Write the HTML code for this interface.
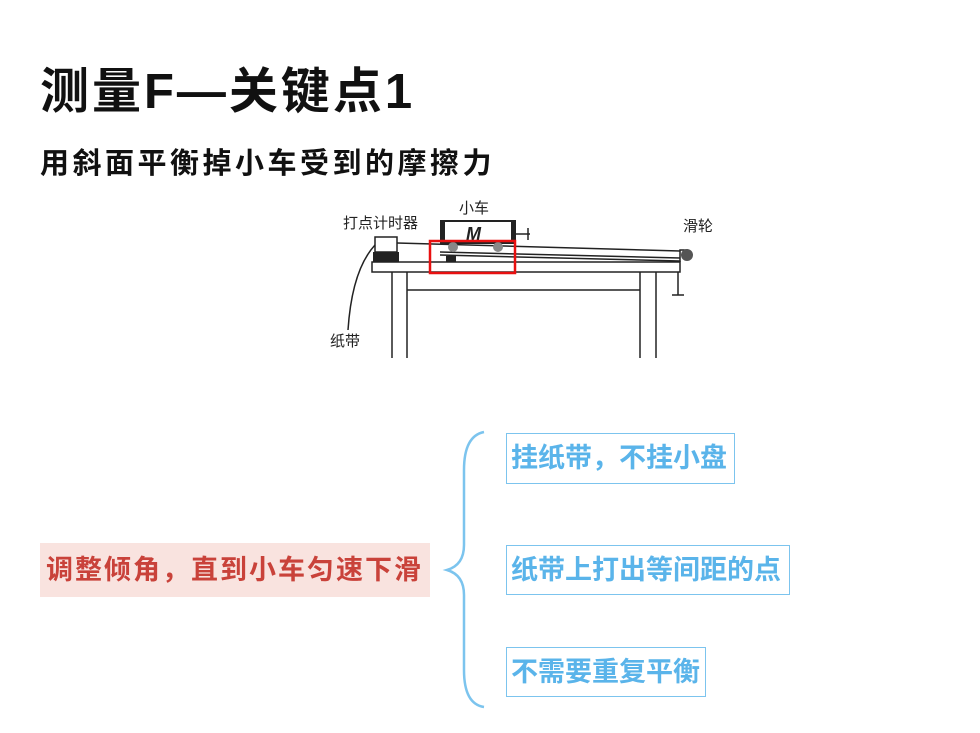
<!DOCTYPE html>
<html><head><meta charset="utf-8"><style>
body{margin:0;width:980px;height:733px;background:#fff;position:relative;overflow:hidden;font-family:"Liberation Sans","Noto Sans CJK SC",sans-serif}
.a{position:absolute;white-space:nowrap}
.b{position:absolute;border:1.5px solid #7cc4ee;color:#5ab4ea;font-weight:bold;font-size:27px;line-height:48px;padding-left:4px;box-sizing:border-box}
</style></head><body>
<div class="a" style="left:40px;top:52px;font-size:49px;font-weight:bold;color:#111;letter-spacing:3px">测量F—关键点1</div>
<div class="a" style="left:40px;top:140px;font-size:29px;font-weight:bold;color:#111;letter-spacing:3.5px">用斜面平衡掉小车受到的摩擦力</div>
<svg class="a" style="left:0;top:0" width="980" height="733">
<g fill="none" stroke="#222" stroke-width="1.5">
<rect x="372" y="262" width="308" height="10" fill="#fff"/>
<line x1="392" y1="272" x2="392" y2="358"/><line x1="407" y1="272" x2="407" y2="358"/>
<line x1="640" y1="272" x2="640" y2="358"/><line x1="656" y1="272" x2="656" y2="358"/>
<line x1="407" y1="290" x2="640" y2="290"/>
<rect x="375" y="237" width="22" height="15"/>
<line x1="440" y1="252" x2="680" y2="258"/><line x1="440" y1="255" x2="680" y2="261"/>
<rect x="441" y="221" width="74" height="22" stroke-width="2"/>
<path d="M375 245 Q352 270 348 330"/>
<line x1="397" y1="243" x2="680" y2="251"/>
<path d="M680 262 V250 H688 M672 295 H684 M678 272 V295"/>
<line x1="515" y1="234" x2="530" y2="234"/><line x1="528" y1="228" x2="528" y2="240"/>
</g>
<rect x="373" y="252" width="26" height="10" fill="#222"/>
<rect x="446" y="256" width="10" height="6" fill="#222"/>
<rect x="441" y="221" width="4" height="22" fill="#222"/><rect x="511" y="221" width="4" height="22" fill="#222"/>
<text x="466" y="240" font-size="18" font-style="italic" font-weight="bold" fill="#222">M</text>
<circle cx="453" cy="247" r="5" fill="#888"/><circle cx="498" cy="247" r="5" fill="#888"/>
<circle cx="687" cy="255" r="6" fill="#555"/>
<rect x="430" y="241" width="85" height="32" fill="none" stroke="#e81010" stroke-width="2.5"/>
<text x="343" y="228" font-size="15" fill="#222">打点计时器</text>
<text x="459" y="213" font-size="15" fill="#222">小车</text>
<text x="683" y="231" font-size="15" fill="#222">滑轮</text>
<text x="330" y="346" font-size="15" fill="#222">纸带</text>
<path d="M484 432 Q464 436 464 470 V545 Q464 565 447 570 Q464 575 464 595 V670 Q464 704 484 707" fill="none" stroke="#7cc4ee" stroke-width="2.5"/>
</svg>
<div class="a" style="left:40px;top:543px;width:390px;height:54px;background:#f9e3df;color:#c9423a;font-weight:bold;font-size:27px;line-height:54px;padding-left:6px;box-sizing:border-box;letter-spacing:2px">调整倾角，直到小车匀速下滑</div>
<div class="b" style="left:506px;top:433px;width:229px;height:51px">挂纸带，不挂小盘</div>
<div class="b" style="left:506px;top:545px;width:284px;height:50px">纸带上打出等间距的点</div>
<div class="b" style="left:506px;top:647px;width:200px;height:50px">不需要重复平衡</div>
</body></html>
